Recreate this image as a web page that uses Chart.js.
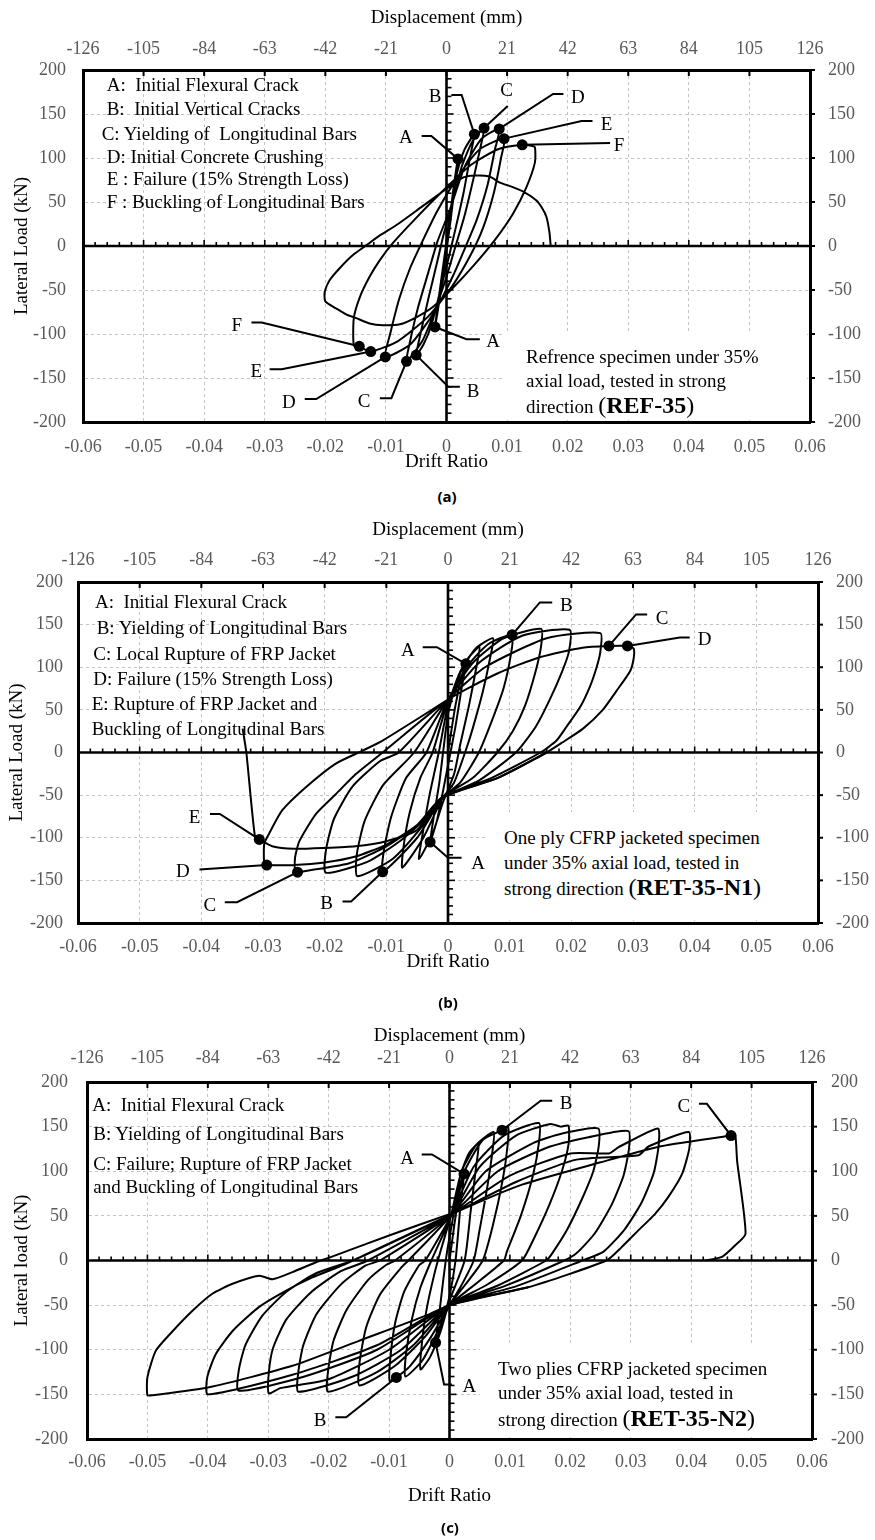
<!DOCTYPE html>
<html><head><meta charset="utf-8">
<script src="https://cdn.jsdelivr.net/npm/chart.js@4.4.1/dist/chart.umd.min.js"></script>
<style>
html,body{margin:0;padding:0;background:#fff;}
#wrap{position:relative;width:875px;height:1540px;overflow:hidden;background:#fff;}
canvas{position:absolute;left:0;}
.t{position:absolute;font-family:'Liberation Serif','Times New Roman',serif;font-size:19px;color:#000;white-space:pre;line-height:1;transform:translateY(-50%);}
.lab{position:absolute;font-family:'Liberation Serif','Times New Roman',serif;font-size:19px;color:#000;line-height:1;transform:translate(-50%,-50%);}
.box{position:absolute;background:#fff;}
.cap{position:absolute;font-family:'Open Sans','Noto Sans',sans-serif;font-weight:700;font-size:15px;line-height:1;transform:translate(-50%,-50%);}
.big{font-size:24px;}
.bold{font-weight:700;font-size:24px;}
</style></head><body><div id="wrap"></div>
<script>
// ---------- axis ticks ----------
const driftTicks = [-0.06,-0.05,-0.04,-0.03,-0.02,-0.01,0,0.01,0.02,0.03,0.04,0.05,0.06];
const dispTicks = [-126,-105,-84,-63,-42,-21,0,21,42,63,84,105,126];
const loadTicks = [-200,-150,-100,-50,0,50,100,150,200];

// ---------- (a) REF-35 : [drift ratio, lateral load kN] ----------
const refPath = [
 [0,0],[0.0006,35],[0.0012,68],[0.0019,99],[0.0014,70],[0.0006,25],[0,-5],[-0.0008,-45],[-0.0014,-72],[-0.0019,-92],[-0.0013,-60],[-0.0005,-20],[0,5],
 [0.0008,45],[0.0018,85],[0.003,110],[0.0046,127],[0.004,105],[0.0028,60],[0.0015,20],[0.0003,-15],[-0.001,-50],[-0.0025,-90],[-0.0038,-112],[-0.005,-124],[-0.0043,-100],[-0.003,-60],[-0.0016,-20],[-0.0004,15],
 [0.001,50],[0.0025,90],[0.0042,118],[0.0062,134],[0.0056,112],[0.0044,75],[0.003,35],[0.0015,0],[0,-35],[-0.002,-75],[-0.004,-108],[-0.0066,-131],[-0.006,-108],[-0.0047,-70],[-0.003,-30],[-0.0015,5],
 [0.0005,40],[0.003,90],[0.0058,122],[0.0087,133],[0.008,110],[0.0068,70],[0.005,30],[0.0032,0],[0.001,-35],[-0.002,-75],[-0.006,-112],[-0.0101,-126],[-0.0093,-100],[-0.0078,-60],[-0.006,-25],[-0.004,5],
 [-0.0015,40],[0.002,80],[0.0055,110],[0.0095,122],[0.009,100],[0.0078,60],[0.006,20],[0.004,-10],[0.001,-45],[-0.003,-80],[-0.008,-108],[-0.0125,-120],[-0.0144,-114],[-0.0153,-113],[-0.0153,-82],[-0.0143,-58],[-0.0127,-35],[-0.011,-16],[-0.0089,3],[-0.005,32],[-0.001,60],[0.004,92],[0.0085,110],[0.0125,115],[0.014,114],[0.0146,112],[0.0146,95],[0.0132,67],[0.011,37],[0.008,7],[0.0045,-22],[0.001,-48],[-0.0022,-69],[-0.005,-81],[-0.0077,-89],[-0.0105,-90],[-0.0127,-88],[-0.0149,-82],[-0.0165,-78],[-0.0182,-71],[-0.02,-63],[-0.0201,-52],[-0.0193,-39],[-0.0176,-25],[-0.0154,-10],[-0.0132,1],[-0.011,12],[-0.008,25],[-0.004,45],[0,65],[0.0025,77],[0.0045,80],[0.0071,79],[0.0088,72],[0.0105,68],[0.0126,62],[0.0148,52],[0.0158,43],[0.0165,33],[0.017,15],[0.0172,0]
];
const refMarks = [[0.0019,99],[0.0046,127],[0.0062,134],[0.0087,133],[0.0095,122],[0.0125,115],[-0.0019,-92],[-0.005,-124],[-0.0066,-131],[-0.0101,-126],[-0.0125,-120],[-0.0144,-114]];
const refNotes = [
 {t:'A', at:[-0.0067,125], path:[[-0.0041,125],[-0.0025,125],[0.0019,99]]},
 {t:'B', at:[-0.0019,171.6], path:[[0.0008,171.6],[0.0025,171.6],[0.0046,127]]},
 {t:'C', at:[0.0099,178], path:[[0.0101,159],[0.0062,134]]},
 {t:'D', at:[0.0217,170.5], path:[[0.0193,172.7],[0.0176,172.7],[0.0087,133]]},
 {t:'E', at:[0.0264,140], path:[[0.0241,142],[0.0223,142],[0.0095,122]]},
 {t:'F', at:[0.0285,116], path:[[0.027,117],[0.0125,115]]},
 {t:'A', at:[0.0077,-107], path:[[0.0055,-106],[0.0033,-106],[-0.0019,-92]]},
 {t:'B', at:[0.0044,-164], path:[[0.0022,-160],[0.0003,-160],[-0.005,-124]]},
 {t:'C', at:[-0.0136,-175], path:[[-0.011,-173],[-0.0091,-173],[-0.0066,-131]]},
 {t:'D', at:[-0.026,-176], path:[[-0.0234,-174],[-0.0215,-174],[-0.0101,-126]]},
 {t:'E', at:[-0.0314,-141], path:[[-0.0292,-140],[-0.0272,-140],[-0.0125,-120]]},
 {t:'F', at:[-0.0346,-89], path:[[-0.0322,-87],[-0.0305,-87],[-0.0144,-114]]}
];

// ---------- (b) RET-35-N1 ----------
const n1Path = [
 [0,0],[0.0012,55],[0.0022,88],[0.0029,104],[0.0022,75],[0.0012,30],[0.0004,0],[-0.0008,-45],[-0.0018,-80],[-0.0029,-105],[-0.0023,-75],[-0.0014,-35],[-0.0008,0],
 [0,45],[0.0015,85],[0.0032,110],[0.0051,124],[0.0046,100],[0.0034,55],[0.002,10],[0.001,-25],[-0.0008,-58],[-0.0025,-95],[-0.0047,-125],[-0.0041,-95],[-0.003,-50],[-0.0015,0],
 [0,55],[0.002,95],[0.0045,122],[0.0073,134],[0.0068,110],[0.0056,70],[0.004,28],[0.003,5],[0.001,-35],[-0.001,-55],[-0.004,-100],[-0.0074,-135],[-0.0072,-110],[-0.0062,-70],[-0.0045,-30],[-0.0025,0],
 [0,60],[0.003,100],[0.0065,127],[0.0104,138],[0.0102,115],[0.009,75],[0.007,35],[0.005,0],[0.002,-35],[-0.001,-54],[-0.005,-100],[-0.0106,-140],[-0.0104,-115],[-0.0092,-75],[-0.0068,-30],[-0.0035,0],
 [0,62],[0.004,105],[0.009,134],[0.0151,145],[0.0151,125],[0.0142,95],[0.0125,55],[0.0105,25],[0.008,0],[0.004,-30],[-0.001,-53],[-0.004,-85],[-0.009,-125],[-0.0147,-145],[-0.0148,-120],[-0.0135,-80],[-0.0105,-38],[-0.0055,0],
 [0,62],[0.005,105],[0.012,137],[0.0197,144],[0.0196,118],[0.0185,95],[0.0165,62],[0.0142,30],[0.011,0],[0.005,-33],[-0.001,-53],[-0.004,-80],[-0.008,-105],[-0.013,-128],[-0.0198,-141],[-0.0198,-115],[-0.0185,-78],[-0.0155,-40],[-0.011,-10],[-0.008,0],
 [0,62],[0.006,100],[0.016,134],[0.0247,140],[0.0247,118],[0.0241,100],[0.023,77],[0.0214,53],[0.0192,30],[0.0176,14],[0.015,0],[0.007,-30],[-0.001,-53],[-0.005,-85],[-0.01,-110],[-0.016,-130],[-0.0244,-140.4],[-0.0248,-140],[-0.0248,-123],[-0.0241,-104],[-0.0214,-72],[-0.0182,-49],[-0.0149,-25],[-0.0106,0],
 [0,62],[0.0081,93],[0.015,112],[0.0218,123],[0.0261,125],[0.0291,125],[0.0301,122],[0.0301,110],[0.0295,95],[0.0273,72],[0.0251,50],[0.0219,28],[0.0186,12],[0.016,0],[0.008,-30],[-0.001,-53],[-0.005,-85],[-0.01,-108],[-0.015,-122],[-0.02,-129],[-0.025,-132],[-0.0294,-132],[-0.0298,-131],[-0.0298,-107],[-0.029,-95],[-0.0269,-68],[-0.0231,-41],[-0.0182,-13],[-0.0139,2],[-0.0106,14],[0,62]
];
const n1Final = [[0.016,0],[0.008,-30],[-0.001,-53],[-0.005,-91],[-0.01,-104],[-0.015,-110],[-0.02,-112],[-0.025,-113],[-0.0285,-110],[-0.0306,-102],[-0.0313,-99],[-0.0327,0],[-0.0333,28]];
const n1Marks = [[0.0029,104],[0.0104,138],[0.0261,125],[0.0291,125],[-0.0029,-105],[-0.0106,-140],[-0.0244,-140.4],[-0.0294,-132],[-0.0306,-102]];
const n1Notes = [
 {t:'A', at:[-0.0065,121.6], path:[[-0.0041,123.5],[-0.0018,123.5],[0.0029,104]]},
 {t:'B', at:[0.0192,174.4], path:[[0.0169,176],[0.0149,176],[0.0104,138]]},
 {t:'C', at:[0.0347,158.7], path:[[0.0323,162],[0.0305,162],[0.0261,125]]},
 {t:'D', at:[0.0416,134], path:[[0.0392,135],[0.0376,135],[0.0291,125]]},
 {t:'A', at:[0.0049,-128.7], path:[[0.0022,-123.5],[0,-123.5],[-0.0029,-105]]},
 {t:'B', at:[-0.0197,-175.6], path:[[-0.0171,-174.8],[-0.0157,-174.8],[-0.0106,-140]]},
 {t:'C', at:[-0.0386,-177.5], path:[[-0.0362,-175.6],[-0.0342,-175.6],[-0.0244,-140.4]]},
 {t:'D', at:[-0.043,-138.4], path:[[-0.0403,-137.2],[-0.0294,-132]]},
 {t:'E', at:[-0.0411,-74], path:[[-0.0386,-72],[-0.037,-72],[-0.0306,-102]]}
];

// ---------- (c) RET-35-N2 ----------
const n2Path = [
 [0,0],[0.0008,40],[0.0016,75],[0.0024,97],[0.0018,60],[0.001,0],[0,-40],[-0.0012,-70],[-0.0023,-92],[-0.0017,-60],[-0.001,-20],[-0.0004,10],
 [0.0005,45],[0.0018,95],[0.0032,120],[0.0048,131],[0.0044,105],[0.0035,55],[0.0025,0],[0,-45],[-0.0015,-80],[-0.0032,-108],[-0.0048,-122],[-0.0046,-95],[-0.0038,-55],[-0.0025,-15],[-0.0015,10],
 [0.0003,52],[0.002,100],[0.0045,130],[0.0073,144],[0.0071,122],[0.0062,80],[0.005,35],[0.004,0],[0.0018,-30],[0,-50],[-0.002,-80],[-0.0045,-112],[-0.0073,-130],[-0.0072,-105],[-0.0062,-65],[-0.0048,-30],[-0.003,0],
 [0.0004,52],[0.0025,100],[0.0055,135],[0.0087,146],[0.0097,150],[0.0096,128],[0.0088,90],[0.0072,40],[0.0055,0],[0.0025,-28],[0,-50],[-0.003,-85],[-0.0065,-118],[-0.0088,-131],[-0.0099,-135],[-0.0098,-110],[-0.009,-70],[-0.0075,-35],[-0.005,-5],[-0.004,0],
 [0.0004,52],[0.004,105],[0.009,140],[0.0148,154],[0.0148,132],[0.0138,95],[0.0118,50],[0.0095,10],[0.009,0],[0.004,-28],[0,-50],[-0.004,-85],[-0.009,-118],[-0.0149,-140],[-0.0149,-115],[-0.0138,-75],[-0.0115,-38],[-0.008,-8],[-0.0068,0],
 [0.0004,52],[0.005,105],[0.011,140],[0.0167,153],[0.0184,150],[0.0197,151],[0.0197,130],[0.0186,100],[0.0165,62],[0.014,25],[0.012,0],[0.006,-28],[0,-50],[-0.006,-95],[-0.012,-125],[-0.0201,-147],[-0.0201,-124],[-0.0192,-90],[-0.017,-55],[-0.0135,-22],[-0.0105,-5],[-0.009,0],
 [0.0004,52],[0.006,100],[0.014,132],[0.0185,142],[0.0246,148],[0.0247,128],[0.0238,100],[0.022,70],[0.0195,35],[0.017,8],[0.016,0],[0.008,-28],[0,-50],[-0.008,-100],[-0.016,-130],[-0.025,-147],[-0.025,-124],[-0.0242,-95],[-0.022,-60],[-0.018,-27],[-0.014,-6],[-0.0115,0],
 [0.0004,52],[0.008,100],[0.016,126],[0.023,138],[0.0296,145],[0.0297,125],[0.0288,95],[0.0268,62],[0.024,30],[0.021,8],[0.019,0],[0.009,-29],[0,-50],[-0.01,-100],[-0.02,-133],[-0.028,-143],[-0.0299,-149],[-0.0299,-125],[-0.0292,-98],[-0.027,-66],[-0.023,-36],[-0.018,-12],[-0.0135,0],
 [0.0004,52],[0.01,95],[0.02,120],[0.0264,120],[0.028,127],[0.0345,148],[0.0346,128],[0.0338,98],[0.0318,65],[0.029,35],[0.0255,10],[0.022,0],[0.011,-29],[0,-50],[-0.012,-100],[-0.024,-130],[-0.0349,-146],[-0.0349,-124],[-0.0338,-95],[-0.031,-62],[-0.027,-35],[-0.022,-14],[-0.016,0],
 [0.0004,52],[0.011,88],[0.021,113],[0.0313,118],[0.033,128],[0.0396,144],[0.0397,126],[0.0385,97],[0.0362,71],[0.034,52],[0.0313,34],[0.0285,15],[0.026,0],[0.013,-30],[0,-50],[-0.012,-95],[-0.026,-128],[-0.04,-150],[-0.0401,-131],[-0.0387,-105],[-0.0359,-79],[-0.0315,-52],[-0.0271,-34],[-0.0227,-19],[-0.0183,-7],[-0.016,0],
 [0.0004,52],[0.012,85],[0.025,110],[0.035,128],[0.0466,140],[0.0473,140],[0.0476,112],[0.049,30],[0.0473,17],[0.0451,4],[0.0424,0]
];
const n2Last = [[0.013,-30],[0,-50],[-0.004,-62],[-0.015,-90],[-0.026,-118],[-0.0398,-142],[-0.0492,-151],[-0.05,-151],[-0.05,-131],[-0.0486,-101],[-0.0458,-79],[-0.0425,-56],[-0.0392,-37],[-0.0359,-26],[-0.0315,-17],[-0.0293,-21],[-0.026,-13],[-0.0221,-2],[-0.02,3],[-0.01,28],[0,52]];
const n2Marks = [[0.0024,97],[0.0087,146],[0.0466,140],[-0.0023,-92],[-0.0088,-131]];
const n2Notes = [
 {t:'A', at:[-0.007,116.5], path:[[-0.0046,118.8],[-0.0029,118.8],[0.0024,97]]},
 {t:'B', at:[0.0193,177.4], path:[[0.017,179],[0.0151,179],[0.0087,146]]},
 {t:'C', at:[0.0388,173.7], path:[[0.0413,175.6],[0.0426,175.6],[0.0466,140]]},
 {t:'A', at:[0.0033,-140], path:[[0.0004,-139],[-0.0009,-139],[-0.0023,-92]]},
 {t:'B', at:[-0.0214,-177.4], path:[[-0.0189,-175.6],[-0.0171,-175.6],[-0.0088,-131]]}
];

// ---------- rendering ----------
const SERIF = "'Liberation Serif','Times New Roman',serif";
const TICK = '#595959', GRID = '#c4c4c4';
const wrap = document.getElementById('wrap');

function fmtDrift(v){ const r = Math.round(v*100)/100; return r === 0 ? '0' : r.toFixed(2); }

function makeDecor(notes){
  return {
    id:'decor',
    beforeDatasetsDraw(chart){
      const {ctx, chartArea:a, scales:{x, y, x2}} = chart;
      const ln = (x1,y1,x3,y3)=>{ctx.beginPath();ctx.moveTo(x1,y1);ctx.lineTo(x3,y3);ctx.stroke();};
      ctx.save();
      ctx.strokeStyle = '#000';
      const x0 = x.getPixelForValue(0), y0 = y.getPixelForValue(0);
      ctx.lineWidth = 1.6;
      for (let k=-30;k<=30;k++){ const px = x.getPixelForValue(k*0.002); ln(px, y0, px, y0-(k%5===0?6:4)); }
      for (let k=-20;k<=20;k++){ const py = y.getPixelForValue(k*10); ln(x0, py, x0+(k%5===0?7:5), py); }
      ctx.lineWidth = 2;
      dispTicks.forEach(v=>{ const px = x2.getPixelForValue(v); ln(px, a.top, px, a.top+6); });
      loadTicks.forEach(v=>{ const py = y.getPixelForValue(v); ln(a.right, py, a.right+5, py); });
      ctx.lineWidth = 2.6;
      ln(a.left, y0, a.right, y0);
      ln(x0, a.top, x0, a.bottom);
      ctx.restore();
    },
    afterDatasetsDraw(chart){
      const {ctx, scales:{x, y}} = chart;
      ctx.save();
      ctx.strokeStyle = '#000'; ctx.lineWidth = 2; ctx.lineJoin = 'miter';
      notes.forEach(n=>{
        ctx.beginPath();
        n.path.forEach((p,i)=>{ const px=x.getPixelForValue(p[0]), py=y.getPixelForValue(p[1]); i?ctx.lineTo(px,py):ctx.moveTo(px,py); });
        ctx.stroke();
      });
      ctx.restore();
    }
  };
}

function addText(cls, html, left, top){
  const d = document.createElement('div'); d.className = cls; d.innerHTML = html;
  d.style.left = left+'px'; d.style.top = top+'px'; wrap.appendChild(d); return d;
}

function buildPanel(p){
  const cv = document.createElement('canvas');
  cv.width = 875; cv.height = p.h; cv.style.top = p.top+'px';
  wrap.appendChild(cv);
  const font = s => ({family:SERIF, size:s});
  const chart = new Chart(cv.getContext('2d'), {
    type:'scatter',
    data:{datasets:[
      {data:p.marks.map(([x,y])=>({x,y})), pointRadius:5.5, pointBackgroundColor:'#000', pointBorderWidth:0, showLine:false},
      ...p.paths.map(path=>({data:path.map(([x,y])=>({x,y})), showLine:true, borderColor:'#000', borderWidth:2, pointRadius:0, tension:0.2, fill:false}))
    ]},
    options:{
      responsive:false, animation:false, events:[],
      layout:{padding:0},
      plugins:{legend:{display:false}, tooltip:{enabled:false}},
      scales:{
        x:{type:'linear', position:'bottom', min:-0.06, max:0.06,
          afterBuildTicks:s=>{s.ticks = driftTicks.map(v=>({value:v}));},
          ticks:{callback:fmtDrift, color:TICK, font:font(18), padding:p.xPad, maxRotation:0, autoSkip:false},
          grid:{color:GRID, lineWidth:1, drawTicks:false},
          border:{display:true, color:'#000', width:3, dash:[3,3]},
          title:{display:true, text:'Drift Ratio', color:'#000', font:font(19), padding:{top:0, bottom:p.xTitlePad}},
          afterFit:s=>{s.height = p.h - p.area.bottom;}},
        x2:{type:'linear', position:'top', min:-126, max:126,
          afterBuildTicks:s=>{s.ticks = dispTicks.map(v=>({value:v}));},
          ticks:{color:TICK, font:font(18), padding:p.x2Pad, maxRotation:0, autoSkip:false},
          grid:{display:false, drawTicks:false},
          border:{display:true, color:'#000', width:3},
          title:{display:true, text:'Displacement (mm)', color:'#000', font:font(19), padding:{top:p.x2TitlePad, bottom:0}},
          afterFit:s=>{s.height = p.area.top;}},
        y:{type:'linear', position:'left', min:-200, max:200,
          afterBuildTicks:s=>{s.ticks = loadTicks.map(v=>({value:v}));},
          ticks:{color:TICK, font:font(18), padding:p.yPad, autoSkip:false},
          grid:{color:GRID, lineWidth:1, drawTicks:false},
          border:{display:true, color:'#000', width:3, dash:[3,3]},
          title:{display:true, text:p.yTitle, color:'#000', font:font(19), padding:{top:p.yTitlePad, bottom:0}},
          afterFit:s=>{s.width = p.area.left;}},
        y2:{type:'linear', position:'right', min:-200, max:200,
          afterBuildTicks:s=>{s.ticks = loadTicks.map(v=>({value:v}));},
          ticks:{color:TICK, font:font(18), padding:p.y2Pad, autoSkip:false},
          grid:{display:false, drawTicks:false},
          border:{display:true, color:'#000', width:3},
          afterFit:s=>{s.width = 875 - p.area.right;}}
      }
    },
    plugins:[makeDecor(p.notes)]
  });
  p.notes.forEach(n=>{
    const px = chart.scales.x.getPixelForValue(n.at[0]);
    const py = chart.scales.y.getPixelForValue(n.at[1]) + p.top;
    addText('lab', n.t, px, py);
  });
  p.legend.forEach(([txt, lx, ly])=> addText('t', txt, lx, ly));
  const b = p.box;
  const bx = document.createElement('div'); bx.className='box';
  bx.style.left=b.l+'px'; bx.style.top=b.t+'px'; bx.style.width=b.w+'px'; bx.style.height=b.h+'px';
  wrap.appendChild(bx);
  b.lines.forEach(([html, ly])=> addText('t', html, b.tx, ly));
  addText('cap', p.cap, p.capX, p.capY);
}

buildPanel({
  top:0, h:480, area:{left:83, right:810, top:70, bottom:422},
  xPad:14, xTitlePad:6.6, x2Pad:10, x2TitlePad:6.6, yPad:17, y2Pad:18, yTitlePad:10.6,
  yTitle:'Lateral Load (kN)', paths:[refPath], marks:refMarks, notes:refNotes,
  legend:[
    ['A:  Initial Flexural Crack',106.7,84],
    ['B:  Initial Vertical Cracks',106.7,108],
    ['C: Yielding of  Longitudinal Bars',101.7,132.5],
    ['D: Initial Concrete Crushing',106.7,156],
    ['E : Failure (15% Strength Loss)',106.7,178],
    ['F : Buckling of Longitudinal Bars',106.7,200.5]
  ],
  box:{l:505, t:333, w:302, h:87, tx:526, lines:[
    ['Refrence specimen under 35%',356],
    ['axial load, tested in strong',380],
    ['direction <span class="big">(</span><span class="bold">REF-35</span><span class="big">)</span>',405]
  ]},
  cap:'(a)', capX:447, capY:496
});

buildPanel({
  top:512, h:480, area:{left:78, right:818, top:70, bottom:411},
  xPad:13, xTitlePad:18.6, x2Pad:11, x2TitlePad:6.6, yPad:15, y2Pad:18, yTitlePad:5.6,
  yTitle:'Lateral Load (kN)', paths:[n1Path, n1Final], marks:n1Marks, notes:n1Notes,
  legend:[
    ['A:  Initial Flexural Crack',95,601],
    ['B: Yielding of Longitudinal Bars',96.7,627.3],
    ['C: Local Rupture of FRP Jacket',93.3,653.3],
    ['D: Failure (15% Strength Loss)',93.3,678.3],
    ['E: Rupture of FRP Jacket and',91.7,703.3],
    ['Buckling of Longitudinal Bars',91.7,728.3]
  ],
  box:{l:485, t:812, w:330, h:108, tx:504, lines:[
    ['One ply CFRP jacketed specimen',836.7],
    ['under 35% axial load, tested in',861.7],
    ['strong direction <span class="big">(</span><span class="bold">RET-35-N1</span><span class="big">)</span>',886.7]
  ]},
  cap:'(b)', capX:448, capY:1002
});

buildPanel({
  top:1020, h:520, area:{left:87, right:812, top:62, bottom:419},
  xPad:12, xTitlePad:32.6, x2Pad:13, x2TitlePad:4.6, yPad:19, y2Pad:19, yTitlePad:10.6,
  yTitle:'Lateral load (kN)', paths:[n2Path, n2Last], marks:n2Marks, notes:n2Notes,
  legend:[
    ['A:  Initial Flexural Crack',92.3,1104.3],
    ['B: Yielding of Longitudinal Bars',93.3,1133.3],
    ['C: Failure; Rupture of FRP Jacket',93.3,1162.7],
    ['and Buckling of Longitudinal Bars',93.3,1185.7]
  ],
  box:{l:480, t:1343, w:329, h:94, tx:498, lines:[
    ['Two plies CFRP jacketed specimen',1367.7],
    ['under 35% axial load, tested in',1391.7],
    ['strong direction <span class="big">(</span><span class="bold">RET-35-N2</span><span class="big">)</span>',1418.3]
  ]},
  cap:'(c)', capX:450, capY:1527
});
</script></body></html>
